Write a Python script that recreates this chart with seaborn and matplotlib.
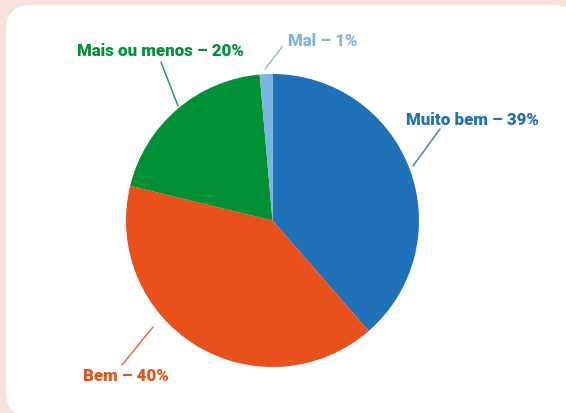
import matplotlib.pyplot as plt
import seaborn as sns
from matplotlib.patches import FancyBboxPatch

# answers to the survey, clockwise from the top
labels = ["Muito bem", "Bem", "Mais ou menos", "Mal"]
shares = [38.6, 40.2, 19.8, 1.4]
pct_text = ["39%", "40%", "20%", "1%"]
colours = ["#1f71b8", "#e9511c", "#009036", "#7cb5e1"]

W, H = 566, 414

sns.set_theme(style="white")
plt.rcParams["font.family"] = ["Roboto", "DejaVu Sans"]

fig = plt.figure(figsize=(W / 100, H / 100), dpi=100)
fig.patch.set_facecolor("#f7e2da")
ax = fig.add_axes([0, 0, 1, 1])

# white card behind the chart
card = FancyBboxPatch((6, H - 418), 572, 412,
                      boxstyle="round,pad=0,rounding_size=25",
                      facecolor="white", edgecolor="none", zorder=0)
ax.add_patch(card)

ax.pie(shares, colors=colours, startangle=90, counterclock=False,
       center=(272.5, H - 221.5), radius=146.5, frame=True,
       wedgeprops=dict(linewidth=0, zorder=2))

# label text (left x, baseline y) and leader line ends, in pixels from top-left
label_pos = [(406, 125), (83, 381), (77, 56), (288, 46)]
leaders = [((413, 167), (440, 130)),
           ((153, 328), (122, 366)),
           ((178, 107), (161, 63)),
           ((265, 70), (282, 48))]

for name, pct, col, (tx, ty), (p0, p1) in zip(labels, pct_text, colours, label_pos, leaders):
    ax.plot([p0[0], p1[0]], [H - p0[1], H - p1[1]], color=col, lw=1.1, alpha=0.85, zorder=3)
    ax.text(tx, H - ty, f"{name} \u2013 {pct}", color=col, fontsize=12.2,
            fontweight="heavy", ha="left", va="baseline", zorder=4)

ax.set_xlim(0, W)
ax.set_ylim(0, H)
ax.axis("off")

fig.savefig("out.png", dpi=100, facecolor=fig.get_facecolor())
